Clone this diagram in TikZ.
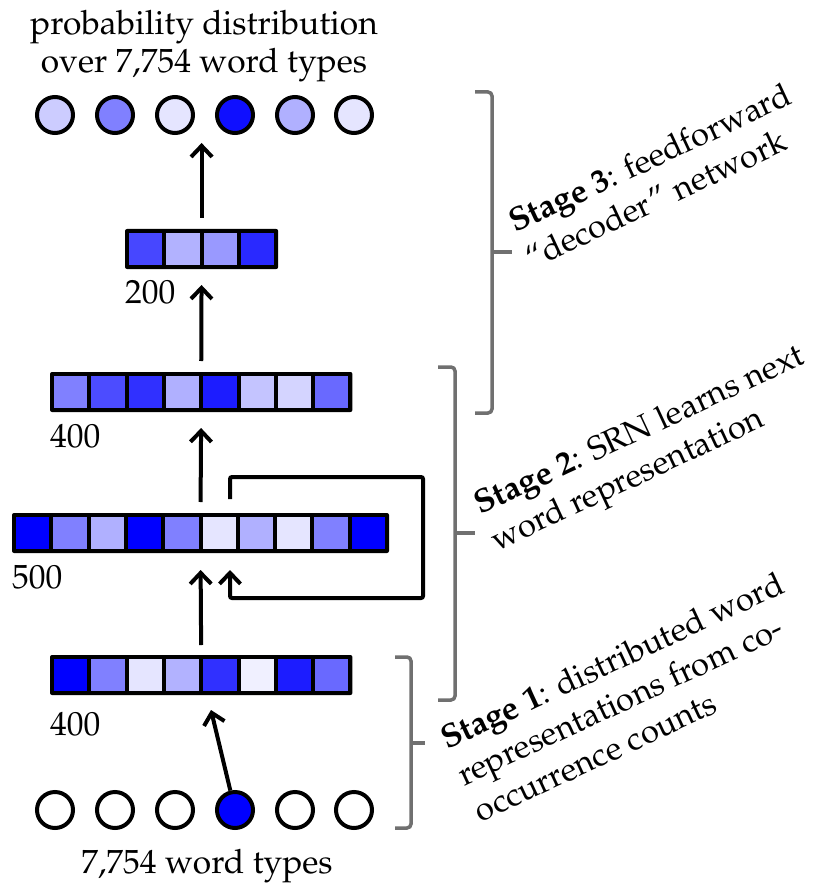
\documentclass[tikz,border=0pt]{standalone}
\usepackage[T1]{fontenc}
\usepackage{mathpazo}
\usetikzlibrary{arrows.meta,calc}
\tikzset{
  layerbox/.style={fill=black, rounded corners=2pt, inner sep=0pt, outer sep=0pt, minimum height=40pt, anchor=north west},
  unit/.style={circle, draw=black, line width=4pt, minimum size=36pt, inner sep=0pt},
  arr/.style={draw=black, line width=4pt, -{Straight Barb[length=11pt, width=21pt]}},
  brk/.style={draw=black!56, line width=3.5pt, rounded corners=4pt},
  txt/.style={font=\fontsize{33.5}{38}\selectfont, inner sep=0pt},
  lbl/.style={txt, anchor=base west},
  stage/.style={font=\fontsize{33}{40}\selectfont, inner sep=0pt, align=left, anchor=base west, rotate=25}
}
\newcommand\nnlayer[5]{%
  \node[layerbox, minimum width={#4*37.3pt+4pt}] (#1) at (#2,#3) {};
  \foreach \c [count=\i from 0] in {#5}{
    \fill[fill=\c] ($(#1.north west)+(\i*37.3+4,4)$) rectangle ++(33.3,32);
  }%
}
\begin{document}
\begin{tikzpicture}[x=1pt, y=-1pt]
\useasboundingbox (0,0) rectangle (818,885);

% title (anchor = baseline of last line)
\node[txt, align=center, anchor=base] (title) at (204,73) {probability distribution\\over 7,754 word types};

% output units
\foreach \n/\x/\c in {1/55/blue!20, 2/115/blue!50, 3/175/blue!10, 4/235/blue!94, 5/295/blue!31, 6/354/blue!10}
  \node[unit, fill=\c] (t\n) at (\x,115) {};

% input units
\foreach \n/\x/\c in {1/55/white, 2/115/white, 3/175/white, 4/235/blue, 5/295/white, 6/354/white}
  \node[unit, fill=\c] (b\n) at (\x,810) {};

% layers
\nnlayer{L200}{125}{229}{4}{blue!72, blue!30, blue!40, blue!84}
\nnlayer{L400a}{50}{372}{8}{blue!50, blue!70, blue!81, blue!31, blue!89, blue!23, blue!17, blue!59}
\nnlayer{L500}{12}{513}{10}{blue, blue!50, blue!31, blue, blue!50, blue!10, blue!31, blue!10, blue!50, blue}
\nnlayer{L400b}{50}{655}{8}{blue, blue!50, blue!10, blue!30, blue!81, blue!6, blue!89, blue!59}

% size labels
\node[lbl] (n200) at (125,303) {200};
\node[lbl] (n400a) at (50,447) {400};
\node[lbl] (n500) at (12,588) {500};
\node[lbl] (n400b) at (50,735) {400};

% feedforward arrows
\draw[arr, shorten <=11pt, shorten >=8pt] (L200.north) -- (L200.north |- t3.south);
\draw[arr, shorten <=11pt, shorten >=16pt] (L400a.north) -- (L200.south);
\draw[arr, shorten <=11pt, shorten >=16pt] (L500.north) -- (L400a.south);
\draw[arr, shorten <=10pt, shorten >=17pt] (L400b.north) -- (L500.south);

% recurrent loop
\coordinate (r0) at (230,499);
\coordinate (rA) at (423,477);
\coordinate (rB) at (423,598);
\coordinate (rT) at (230,570);
\draw[arr, rounded corners=2pt] (r0) |- (rA) -- (rB) -| (rT);

% input arrow
\coordinate (inT) at (211,710);
\draw[arr] (b4) -- (inT);

% brackets
\draw[brk] (475,92) -- (492,92) -- (492,413) -- (475,413);
\draw[brk] (492,252) -- (512,252);
\draw[brk] (438,367) -- (455,367) -- (455,700) -- (438,700);
\draw[brk] (455,533) -- (475,533);
\draw[brk] (395,657) -- (411,657) -- (411,828) -- (395,828);
\draw[brk] (411,743) -- (425,743);

% stage texts (anchor = baseline start of last line)
\node[stage] (s3) at (531.9,269.3) {\textbf{Stage 3}: feedforward\\``decoder'' network};
\node[stage] (s2) at (496.9,551.3) {\textbf{Stage 2}: SRN learns next\\word representation};
\node[stage] (s1) at (480.8,822.5) {\textbf{Stage 1}: distributed word\\representations from co-\\occurrence counts};

% bottom label
\node[txt, anchor=base] (inlbl) at (207,873) {7,754 word types};
\end{tikzpicture}
\end{document}
